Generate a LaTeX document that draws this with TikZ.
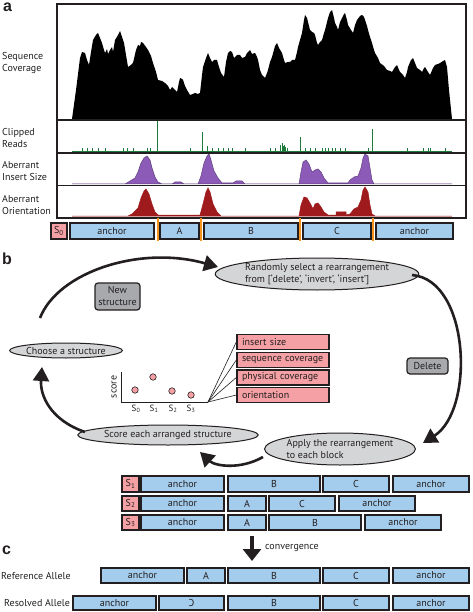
\documentclass[tikz,border=0pt]{standalone}
\usepackage{fontspec}
\setmainfont{PT Sans}
\newfontfamily\lblfont{Liberation Sans}
\usetikzlibrary{arrows.meta,shapes.geometric}
\definecolor{darkline}{HTML}{231F20}
\definecolor{blockblue}{HTML}{A4CCEC}
\definecolor{pinkfill}{HTML}{F4A0A4}
\definecolor{greyell}{HTML}{D4D5D6}
\definecolor{greybox}{HTML}{A7A9AC}
\definecolor{orangel}{HTML}{F7941D}
\definecolor{greentr}{HTML}{1E7B3C}
\definecolor{purpfill}{HTML}{8C5BB8}
\definecolor{redfill}{HTML}{9E1A1D}
\newcommand\segbox[7]{\node[#2, minimum width={(#4-#3)*1pt}, minimum height={(#6-#5)*1pt}] (#1) at ({(#3+#4)/2},{(#5+#6)/2}) {#7};}
\tikzset{
  txt/.style={text=darkline, font=\fontsize{10}{12}\selectfont},
  segb/.style={draw=darkline, line width=1.4pt, fill=blockblue, inner sep=0pt, outer sep=0pt, txt},
  segp/.style={draw=darkline, line width=1.4pt, fill=pinkfill, inner sep=0pt, outer sep=0pt, txt},
  frame/.style={draw=darkline, line width=1.2pt},
  ell/.style={ellipse, draw=darkline, line width=1pt, fill=greyell, inner sep=0pt, txt},
  gbox/.style={rectangle, rounded corners=3pt, draw=darkline, line width=1.2pt, fill=greybox, inner sep=1pt, txt, align=center},
  pbox/.style={rectangle, draw=darkline, line width=1.4pt, fill=pinkfill, inner xsep=5pt, inner ysep=0pt, text width=82pt, align=left, minimum height=15pt, txt},
  bigarrow/.style={line width=2.6pt, darkline, -{Triangle[length=14pt,width=16pt]}},
  panel/.style={font=\lblfont\bfseries\fontsize{16}{16}\selectfont, text=darkline, inner sep=0pt, anchor=north west},
  tlabel/.style={txt, anchor=west, align=left, inner sep=0pt},
  dot/.style={circle, draw=darkline, line width=0.6pt, fill=pinkfill, minimum size=6.5pt, inner sep=0pt},
  sub/.style={txt, font=\fontsize{9}{10}\selectfont, inner sep=0pt}
}
\begin{document}
\begin{tikzpicture}[x=1pt,y=-1pt]
\useasboundingbox (0,0) rectangle (472,612);
\fill[white] (0,0) rectangle (472,612);

% ---------------- panel a ----------------
\node[panel] (la) at (3,3) {a};
\node[tlabel] (lcov) at (2,63) {Sequence\\Coverage};
\node[tlabel] (lclip) at (2,138) {Clipped\\Reads};
\node[tlabel] (lins) at (2,171) {Aberrant\\Insert Size};
\node[tlabel] (lori) at (2,205) {Aberrant\\Orientation};

% coverage silhouette
\fill[black] (72,119) -- (76,90) -- (80,58) -- (82,52) -- (85,53) -- (87,60) -- (89,65) -- (91,52) -- (93,40) -- (96,35) -- (98,33) -- (100,38) -- (102,43) -- (104,50) -- (105,53) -- (107,49) -- (108,54) -- (110,50) -- (112,47) -- (113,52) -- (115,40) -- (118,35) -- (120,31) -- (122,37) -- (124,43) -- (126,55) -- (128,67) -- (131,65) -- (133,63) -- (136,50) -- (138,45) -- (140,46) -- (141,42) -- (143,43) -- (146,47) -- (148,50) -- (151,56) -- (153,63) -- (156,72) -- (158,80) -- (162,81) -- (165,83) -- (168,86) -- (170,90) -- (172,87) -- (173,88) -- (175,90) -- (177,92) -- (179,82) -- (180,78) -- (182,79) -- (183,80) -- (185,86) -- (187,90) -- (190,95) -- (193,94) -- (195,93) -- (198,94) -- (200,93) -- (202,75) -- (203,67) -- (206,58) -- (208,53) -- (210,58) -- (212,62) -- (214,60) -- (217,60) -- (219,67) -- (221,73) -- (224,77) -- (226,62) -- (228,53) -- (230,51) -- (232,52) -- (234,58) -- (235,57) -- (237,55) -- (240,55) -- (242,58) -- (245,57) -- (247,53) -- (250,50) -- (252,54) -- (255,53) -- (257,57) -- (258,60) -- (260,70) -- (262,75) -- (265,78) -- (267,73) -- (268,70) -- (270,62) -- (272,57) -- (275,46) -- (277,43) -- (279,48) -- (282,53) -- (284,60) -- (285,63) -- (288,62) -- (290,62) -- (292,60) -- (295,60) -- (297,52) -- (298,47) -- (300,40) -- (302,33) -- (304,20) -- (305,15) -- (307,18) -- (308,22) -- (310,30) -- (312,32) -- (314,33) -- (315,35) -- (317,43) -- (318,45) -- (320,42) -- (322,40) -- (324,33) -- (325,30) -- (327,22) -- (328,18) -- (330,12) -- (332,10) -- (334,18) -- (335,23) -- (337,27) -- (338,30) -- (340,22) -- (342,18) -- (344,14) -- (345,13) -- (347,20) -- (348,25) -- (351,30) -- (353,33) -- (355,25) -- (357,20) -- (360,16) -- (362,15) -- (364,17) -- (365,20) -- (367,26) -- (368,30) -- (370,37) -- (372,43) -- (374,50) -- (375,53) -- (378,58) -- (380,63) -- (384,66) -- (387,70) -- (390,71) -- (392,72) -- (395,67) -- (397,65) -- (399,70) -- (400,72) -- (403,75) -- (405,78) -- (407,72) -- (408,67) -- (411,60) -- (413,58) -- (415,63) -- (417,68) -- (420,70) -- (422,72) -- (424,68) -- (425,67) -- (428,72) -- (430,75) -- (433,68) -- (435,65) -- (438,64) -- (440,63) -- (443,61) -- (445,60) -- (447,67) -- (449,90) -- (452,119) -- cycle;

% clipped reads
\draw[greentr, line width=0.9pt] (72,151.5) -- (452,151.5);
\foreach \xx/\yy in {157/121, 202/132, 300/137, 372/129}
  \draw[greentr, line width=1pt] (\xx,151.5) -- (\xx,\yy);
\foreach \xx/\yy in {82/148, 87/148, 92/148.5, 98/148, 105/148.5, 123/148, 127/148, 133/148.5, 147/148, 150/148, 190/148, 207/146, 212/148, 218/148, 223/148, 228/148, 232/148, 245/148, 270/148, 275/148, 280/145, 282/143, 283/146, 284/145, 285/147, 287/148, 305/148, 310/148, 315/148, 322/148.5, 325/148, 328/148.5, 332/148, 335/148, 340/148, 345/148, 368/148, 407/148, 423/148, 428/148, 430/148, 445/148}
  \draw[greentr, line width=0.8pt] (\xx,151.5) -- (\xx,\yy);

% aberrant insert size
\filldraw[fill=purpfill, draw=purpfill!70!black, line width=0.5pt] (72,184) -- (125,184) -- (130,181) -- (135,178) -- (138,172) -- (141,163) -- (144,158) -- (147,156) -- (150,160) -- (152,168) -- (155,177) -- (158,182) -- (162,184) -- (172,184) -- (175,182) -- (181,182) -- (184,184) -- (198,184) -- (201,176) -- (204,163) -- (207,156) -- (209,154) -- (211,160) -- (214,171) -- (218,178) -- (222,183) -- (233,183) -- (236,181) -- (242,181) -- (245,184) -- (299,184) -- (301,172) -- (303,162) -- (306,160) -- (309,164) -- (312,172) -- (315,170) -- (318,169) -- (321,172) -- (324,178) -- (328,183) -- (348,183) -- (350,180) -- (354,177) -- (358,176) -- (361,168) -- (363,158) -- (365,154) -- (368,156) -- (370,168) -- (372,180) -- (374,184) -- (452,184) -- cycle;

% aberrant orientation
\filldraw[fill=redfill, draw=redfill, line width=0.5pt] (72,216) -- (128,216) -- (132,214) -- (138,208) -- (141,198) -- (144,191) -- (146,189) -- (149,194) -- (152,204) -- (155,212) -- (158,215) -- (200,215) -- (203,204) -- (206,192) -- (208,188) -- (210,192) -- (213,204) -- (217,212) -- (221,216) -- (299,216) -- (301,205) -- (304,197) -- (307,198) -- (310,203) -- (313,209) -- (315,204) -- (318,203) -- (321,207) -- (324,212) -- (328,215) -- (336,215) -- (336,212) -- (346,212) -- (346,215) -- (350,214) -- (354,209) -- (358,207) -- (361,200) -- (363,190) -- (365,187) -- (368,192) -- (370,205) -- (372,214) -- (375,216) -- (452,216) -- cycle;

% track frames
\draw[frame] (57,4) rectangle (466,120);
\draw[frame] (57,120) rectangle (466,153);
\draw[frame] (57,153) rectangle (466,185.5);
\draw[frame] (57,185.5) rectangle (466,218);

% breakpoints
\foreach \xx in {158,201,300,373}
  \draw[orangel, line width=1.2pt] (\xx,218) -- (\xx,241);

% S0 row
\segbox{s0}{segp}{51}{67}{223}{239}{S\textsubscript{0}}
\segbox{a0}{segb}{70}{154}{223}{239}{anchor}
\segbox{a1}{segb}{160}{199}{223}{239}{A}
\segbox{a2}{segb}{204}{298}{223}{239}{B}
\segbox{a3}{segb}{303}{371}{223}{239}{C}
\segbox{a4}{segb}{376}{453}{223}{239}{anchor}

% ---------------- panel b ----------------
\node[panel] (lb) at (2,253) {b};

\node[ell, minimum width=176pt, minimum height=32pt, align=left] (rand) at (317,274) {Randomly select a rearrangement\\from [‘delete’, ‘invert’, ‘insert’]};
\node[ell, minimum width=98pt, minimum height=15pt] (choose) at (66,350.5) {Choose a structure};
\node[ell, minimum width=150pt, minimum height=20pt] (score) at (168,435) {Score each arranged structure};
\node[ell, minimum width=150pt, minimum height=32pt, align=left] (apply) at (340,449) {Apply the rearrangement\\to each block};

\node[gbox, minimum width=45pt, minimum height=27pt] (newst) at (117.5,296.5) {New\\structure};
\node[gbox, minimum width=41pt, minimum height=16pt] (del) at (427.5,366) {Delete};

\coordinate (c1s) at (40,318);
\coordinate (c1e) at (218,267);
\draw[bigarrow] (c1s) .. controls (58,272) and (140,245) .. (c1e);

\coordinate (c2s) at (412,275);
\coordinate (c2e) at (423,443);
\draw[bigarrow] (c2s) .. controls (470,280) and (475,410) .. (c2e);

\coordinate (c3s) at (85,432);
\coordinate (c3e) at (42,367);
\draw[bigarrow] (c3s) .. controls (50,420) and (40,395) .. (c3e);

\coordinate (c4s) at (263,457);
\coordinate (c4e) at (200,452);
\draw[bigarrow] (c4s) .. controls (240,470) and (215,466) .. (c4e);

% score plot
\coordinate (axtop) at (121,372);
\coordinate (axorig) at (121,402);
\coordinate (axend) at (208,402);
\draw[darkline, line width=0.9pt] (axtop) -- (axorig) -- (axend);
\node[txt, rotate=90, inner sep=0pt] (scorelbl) at (114,387) {score};
\node[dot] (d0) at (135,390) {};
\node[dot] (d1) at (153,377) {};
\node[dot] (d2) at (172,391) {};
\node[dot] (d3) at (191,395) {};
\node[sub] (x0) at (136,409) {S\textsubscript{0}};
\node[sub] (x1) at (154,409) {S\textsubscript{1}};
\node[sub] (x2) at (173,409) {S\textsubscript{2}};
\node[sub] (x3) at (191,409) {S\textsubscript{3}};

\node[pbox] (p1) at (283,342) {insert size};
\node[pbox] (p2) at (283,360) {sequence coverage};
\node[pbox] (p3) at (283,377.5) {physical coverage};
\node[pbox] (p4) at (283,395) {orientation};
\foreach \pp in {p1,p2,p3,p4}
  \draw[darkline, line width=0.6pt] (axend) -- (\pp.west);

% S1-S3 rows
\segbox{s1}{segp}{122}{139}{476}{492}{S\textsubscript{1}}
\segbox{r1a}{segb}{141}{224}{476}{492}{anchor}
\segbox{r1b}{segb}{228}{320}{476}{492}{B}
\segbox{r1c}{segb}{323}{389}{476}{492}{C}
\segbox{r1d}{segb}{393}{469}{476}{492}{anchor}

\segbox{s2}{segp}{122}{139}{496}{511}{S\textsubscript{2}}
\segbox{r2a}{segb}{141}{224}{496}{511}{anchor}
\segbox{r2b}{segb}{228}{266}{496}{511}{A}
\segbox{r2c}{segb}{269}{335}{496}{511}{C}
\segbox{r2d}{segb}{339}{415}{496}{511}{anchor}

\segbox{s3}{segp}{122}{139}{515}{530}{S\textsubscript{3}}
\segbox{r3a}{segb}{141}{224}{515}{530}{anchor}
\segbox{r3b}{segb}{228}{266}{515}{530}{A}
\segbox{r3c}{segb}{269}{361}{515}{530}{B}
\segbox{r3d}{segb}{365}{441}{515}{530}{anchor}

% convergence
\coordinate (cvs) at (252,536);
\coordinate (cve) at (252,561);
\draw[line width=4pt, darkline, -{Triangle[length=12pt,width=18pt]}] (cvs) -- (cve);
\node[txt, anchor=west, inner sep=0pt] (cvl) at (265,548) {convergence};

% ---------------- panel c ----------------
\node[panel] (lc) at (2,546) {c};
\node[tlabel] (lref) at (1,576) {Reference Allele};
\node[tlabel] (lres) at (4,603) {Resolved Allele};

\segbox{f1}{segb}{101}{184}{568}{583}{anchor}
\segbox{f2}{segb}{187}{225}{568}{583}{A}
\segbox{f3}{segb}{228}{320}{568}{583}{B}
\segbox{f4}{segb}{323}{389}{568}{583}{C}
\segbox{f5}{segb}{393}{469}{568}{583}{anchor}

\segbox{g1}{segb}{73}{156}{596}{610}{anchor}
\segbox{g2}{segb}{159}{224}{596}{610}{\reflectbox{C}}
\segbox{g3}{segb}{228}{320}{596}{610}{B}
\segbox{g4}{segb}{323}{389}{596}{610}{C}
\segbox{g5}{segb}{393}{469}{596}{610}{anchor}
\end{tikzpicture}
\end{document}
